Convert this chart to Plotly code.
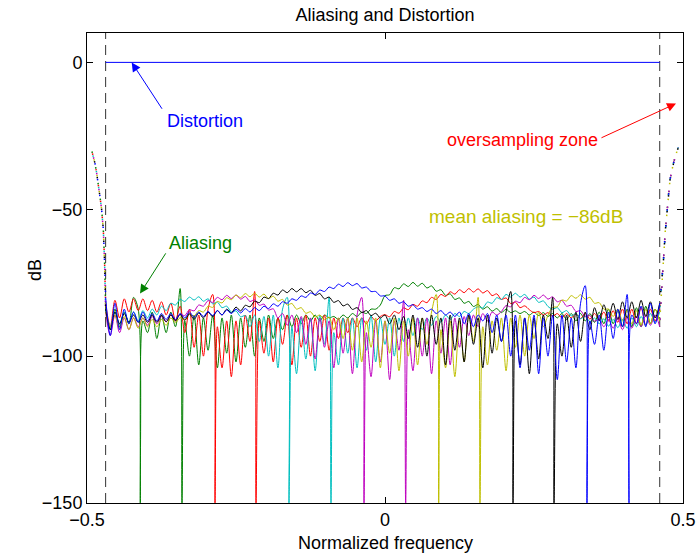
import numpy as np
import plotly.graph_objects as go

# ---------------- data ----------------
freq = (np.arange(-60, 60) / 128).tolist()          # FFT bin grid, -60/128 .. 59/128
band_edges = [-60 / 128, 59 / 128]                  # dashed lines (edge of oversampling zone)
distortion_db = [0, 0]

green_db = [-83, -91, -84, -90, -85, -89,
            -80, -84, -88,
            -92, -85, -94, -86, -92, -85, -90,
            -77, -88,
            -100, -86, -103, -87, -98, -86, -104, -87, -99, -86, -102, -87, -97, -86, -100, -87, -95, -86, -94, -87,
            -91, -86, -90, -86, -89, -86, -88, -86, -88, -86, -87,
            -86.5, -87.5, -86, -87, -85.5, -86.5, -85, -85.5, -84, -84,
            -82.6, -79.4, -79.1, -76.7, -77.1, -75.4, -76.3, -74.9, -76.2, -75.2, -76.8, -76.1, -77.9, -77.4,
            -79.3, -78.8, -80.7, -80.2, -82, -81.4, -83.1, -82.4, -84, -83.2, -84.7, -83.8, -85.2,
            -84, -85.2, -84.6, -85.5, -84.8, -86, -85, -86.2, -85.2, -86.5, -85.5, -87, -85.5, -87.5, -85.5, -88,
            -85.5, -88, -85.5, -88.5,
            -85, -89, -84, -89, -84.5, -90, -84, -90, -83.5, -90, -83, -89, -84, -88]
green_zeros = [-0.4106, -0.3406]

red_db = [-82, -90, -81, -87, -80.5, -85, -80.5, -84.5, -80.5, -84.5, -81, -85, -81.5, -86, -82,
          -88, -83, -92, -84, -97, -86, -100, -84,
          -79, -90,
          -104, -88, -107, -88, -103, -86, -95,
          -78, -88,
          -99, -87, -102, -87, -96, -86, -103, -87, -97, -86, -100, -87, -95, -86, -98, -87, -94, -87, -92,
          -87, -90, -87, -89, -86.5, -88, -86.5,
          -85.9, -86.6, -84.8, -85.4, -83.6, -84.2, -82.4, -83, -81.2, -81.8, -80, -80.7, -79, -79.7, -78.1,
          -78.9, -77.4, -78.4, -77, -78.2, -77.1, -78.5, -77.7, -79.4, -78.8, -80.7, -80.2, -82.1, -81.6,
          -83.5, -82.9,
          -84.2, -85.2, -84.8, -86, -85.2, -86.5, -85.5, -87, -85.5, -87, -85.6, -87.2, -85.5, -87.4, -85.5,
          -87.5, -85, -88, -84.5, -88.5, -84, -89, -84, -89, -83.5, -89.5, -84, -88, -84]
red_zeros = [-0.2852, -0.2164]

cyan_db = [-84, -90, -85, -89, -85, -88.5, -85, -88, -84.5, -87, -84, -86, -83, -84.5, -82,
           -82.6, -80.7, -81.4, -79.9, -80.9, -79.8, -81.3, -80.5, -82.2, -81.6, -83.5, -83, -85, -84.6,
           -86.6, -86.2,
           -90, -86, -95, -86.5, -100, -86, -104, -84,
           -80, -90,
           -106, -87, -101, -87, -105, -86, -96,
           -80, -92,
           -103, -87, -99, -87, -104, -87, -98, -86, -102, -87, -96, -87, -100, -87, -95, -87, -93,
           -87, -91, -87, -89.5, -86.5, -88.5, -86, -87.5, -85.5, -86.5, -84.8, -85.5, -84,
           -83.2, -83.6, -81.6, -82, -80.1, -80.7, -79, -79.9, -78.6, -79.9, -79, -80.6, -79.9, -81.7,
           -81.2, -83.1,
           -84, -83.5, -85.2, -84.5, -86.3, -85.5, -87.3, -86.3, -88.3, -87, -89, -87.3, -89.8, -87.5,
           -90.3, -87.5, -90.5, -87, -90, -86.5, -89.5, -85.5, -88.5, -85]
cyan_zeros = [-0.1611, -0.0906]

magenta_db = [-85, -93, -86, -92, -87, -91, -87, -90, -87, -89.5, -86.5, -89, -86.5, -88.3, -86,
              -87.6, -85.7, -86.2, -84.2, -84.6, -82.6, -83, -81.1, -81.7, -80, -80.8, -79.3, -80.4,
              -79.2, -80.6, -79.7, -81.4, -80.8, -82.7, -82.3, -84.3, -83.9,
              -87, -85.5, -89.5, -86, -92, -86.5, -96, -87, -101, -87, -97, -88, -104, -87, -99, -87,
              -106, -86,
              -80, -92,
              -107, -88, -102, -88, -108, -88, -98,
              -81, -91,
              -105, -87, -100, -87, -106, -88, -99, -87, -103, -87, -97, -86.5, -93, -86, -90, -85.5,
              -88, -85, -86,
              -84.8, -82.8, -83.2, -81.3, -81.8, -80, -80.8, -79.3, -80.4, -79.2, -80.6, -79.8, -81.5,
              -81, -83, -82.7, -84.8, -84.5, -86.6, -86.2, -88.1,
              -87.5, -90, -87.5, -90.5, -87, -91, -87, -90.5, -86.5, -90, -86, -89.5, -86, -90]
magenta_zeros = [-0.0352, 0.0347]

yellow_db = [-85, -90, -86, -90.5, -86.5, -91, -87, -90.5, -87, -90, -87.5, -90, -87.5, -89.5, -87,
             -88.6, -86.9, -87.6, -85.8, -86.4, -84.5, -85, -83, -83.4, -81.4, -81.9, -80.1, -80.8,
             -79.2, -80.1, -78.7, -79.8, -78.6, -79.9, -78.9, -80.4, -79.6, -81.3, -80.7, -82.6, -82.1,
             -84, -83.5, -85.4, -84.9, -86.7, -86, -87.6, -86.7,
             -91, -87, -94, -87, -98, -87, -102, -88, -97, -87, -104, -88, -99, -87, -105, -88, -100,
             -87, -103, -87, -96, -85,
             -79, -91,
             -104, -88, -107, -88, -102, -86, -95,
             -80, -90,
             -103, -88, -98, -87, -105, -87, -97, -86, -100, -86, -94, -85, -90,
             -86.1, -83.4, -83.2, -80.9, -81.2, -79.4, -80.3, -79.1, -80.6, -80, -82, -81.8, -84,
             -84, -86.5, -84, -88, -84.5, -89, -84.5, -89.5, -84, -89, -84, -88]
yellow_zeros = [0.0901, 0.1594]

black_db = [-84, -91, -85, -89, -85.5, -88.5, -86, -88.5, -86, -88.5, -86, -88.5, -86, -88.3, -86,
            -88, -85.8, -87.8, -85.6, -87.5, -85.3, -87, -85, -86.6, -84.5, -86, -84, -85.3, -83.3,
            -84.6, -82.7, -83.2, -81.3, -81.8, -79.9, -80.4, -78.6, -79.2, -77.5, -78.4, -77, -78.1,
            -77, -78.4, -77.6, -79.3, -78.7, -80.5, -79.9, -81.7, -81.1, -82.9, -82.3, -84.1, -83.5,
            -85.2, -84.5, -86.2, -85.4, -87,
            -86, -89, -86, -91, -86.5, -94, -86, -97, -87, -100, -86, -96, -87, -103, -86, -98, -87,
            -102, -86, -96, -87, -104, -86, -99, -87, -95, -85,
            -78, -88,
            -103, -87, -106, -87, -101, -86, -94,
            -80, -89,
            -100, -86, -97, -85, -95, -85, -91, -83.5,
            -88, -82.5, -87, -82, -87.5, -81.5, -87, -81.5, -87, -81, -86.5, -81.5, -87, -82]
black_zeros = [0.2148, 0.2836]

blue_db = [-80, -93, -82, -91, -84, -89, -85, -88.5, -85, -88, -85.5, -88, -85.5, -87.5, -85.5,
           -87.5, -85.5, -87, -85, -86.8, -85, -86.5, -84.8, -86.2, -84.5, -86, -84.3, -85.5, -84,
           -85.3, -83.8,
           -85, -83.5, -84.5, -83, -83.8, -82.2, -83, -81.5, -82, -80.5, -81, -79.5, -80, -78.5, -79,
           -77.5, -78, -76.5, -77, -75.5, -76.3, -75, -76, -75.3, -76.8, -76.5, -78, -78, -79.5,
           -79.5, -81, -80.5, -82, -81.5, -83, -82.5, -84, -83.5, -84.8, -84, -85.5, -84.5, -86, -85,
           -86.5,
           -85, -89, -85.5, -90, -86, -88, -85.5, -92, -86, -95, -86,
           -100, -86, -104, -87, -98, -86, -106, -87, -100, -86, -108, -86, -102, -87, -104, -82,
           -76, -88,
           -96, -86, -98, -85, -94, -84, -90,
           -79, -86,
           -89, -83, -90, -82, -89, -82]
blue_zeros = [0.3389, 0.4094]

# oversampling zone (outside the dashed lines), drawn dotted
left_zone_f = [-0.4921, -0.4866, -0.4837, -0.4810, -0.4782, -0.4755, -0.4726, -0.4705]
left_zone_db = [-30, -34.4, -37.8, -41, -45.8, -50, -57, -68]
right_zone_f = [0.4640, 0.4670, 0.4700, 0.4726, 0.4755, 0.4782, 0.4810, 0.4837, 0.4870, 0.4921]
right_zone_db = [-76, -68, -58, -51.5, -45, -40, -37, -34.5, -32, -29]

zero_floor_db = -150

x_ticks = [-0.5, 0, 0.5]
x_ticktext = ["\u22120.5", "0", "0.5"]
y_ticks = [0, -50, -100, -150]
y_ticktext = ["0", "\u221250", "\u2212100", "\u2212150"]

series = [
    ("#008000", green_db, green_zeros),
    ("#ff0000", red_db, red_zeros),
    ("#00bfbf", cyan_db, cyan_zeros),
    ("#bf00bf", magenta_db, magenta_zeros),
    ("#bfbf00", yellow_db, yellow_zeros),
    ("#000000", black_db, black_zeros),
    ("#0000ff", blue_db, blue_zeros),
]

FONT = "Liberation Sans, Arial, Helvetica, sans-serif"

fig = go.Figure()

# dashed band edges
for xe in band_edges:
    fig.add_trace(go.Scatter(x=[xe, xe], y=[-150, 10], mode="lines",
                             line=dict(color="#333333", width=1, dash="10px,6px"),
                             hoverinfo="skip", showlegend=False))

# distortion
fig.add_trace(go.Scatter(x=band_edges, y=distortion_db, mode="lines",
                         line=dict(color="#0000ff", width=1), showlegend=False))

n = len(series)
for k, (color, db, zeros) in enumerate(series):
    pts = sorted(list(zip(freq, db)) + [(z, zero_floor_db) for z in zeros])
    fig.add_trace(go.Scatter(x=[p[0] for p in pts], y=[p[1] for p in pts], mode="lines",
                             line=dict(color=color, width=1, shape="spline", smoothing=0.9),
                             showlegend=False))
    # interleaved dots so every colour shows in the oversampling zone
    dot = f"0px,{2 * k + 1}px,1.5px,{2 * (n - k) - 0.5}px"
    fig.add_trace(go.Scatter(x=left_zone_f + [freq[0]], y=left_zone_db + [db[0]], mode="lines",
                             line=dict(color=color, width=1.5, dash=dot), showlegend=False))
    fig.add_trace(go.Scatter(x=[freq[-1]] + right_zone_f, y=[db[-1]] + right_zone_db, mode="lines",
                             line=dict(color=color, width=1.5, dash=dot), showlegend=False))

annotations = [
    # arrows
    dict(x=-0.425, y=0, ax=-0.3725, ay=-16.3, axref="x", ayref="y", xref="x", yref="y",
         text="", showarrow=True, arrowhead=2, arrowsize=1.8, arrowwidth=1, arrowcolor="#0000ff",
         standoff=0, startstandoff=0),
    dict(x=0.4883, y=-14.0, ax=0.3607, ay=-25.9, axref="x", ayref="y", xref="x", yref="y",
         text="", showarrow=True, arrowhead=2, arrowsize=1.8, arrowwidth=1, arrowcolor="#ff0000",
         standoff=0, startstandoff=0),
    dict(x=-0.411, y=-78.7, ax=-0.3663, ay=-64.5, axref="x", ayref="y", xref="x", yref="y",
         text="", showarrow=True, arrowhead=2, arrowsize=1.8, arrowwidth=1, arrowcolor="#008000",
         standoff=0, startstandoff=0),
    # texts
    dict(x=-0.369, y=-20.1, xref="x", yref="y", text="Distortion", showarrow=False,
         xanchor="left", yanchor="middle", font=dict(color="#0000ff", size=18, family=FONT)),
    dict(x=0.3607, y=-26.5, xref="x", yref="y", text="oversampling zone", showarrow=False,
         xanchor="right", yanchor="middle", font=dict(color="#ff0000", size=18, family=FONT)),
    dict(x=0.2374, y=-52.4, xref="x", yref="y", text="mean aliasing = \u221286dB", showarrow=False,
         xanchor="center", yanchor="middle", font=dict(color="#bfbf00", size=19, family=FONT)),
    dict(x=-0.3658, y=-61.6, xref="x", yref="y", text="Aliasing", showarrow=False,
         xanchor="left", yanchor="middle", font=dict(color="#008000", size=18, family=FONT)),
    # axis titles
    dict(x=-0.0872, y=0.4957, xref="paper", yref="paper", text="dB", textangle=-90,
         showarrow=False, xanchor="center", yanchor="middle",
         font=dict(color="black", size=18, family=FONT)),
    dict(x=0.5, y=-0.0851, xref="paper", yref="paper", text="Normalized frequency",
         showarrow=False, xanchor="center", yanchor="middle",
         font=dict(color="black", size=18, family=FONT)),
]

fig.update_layout(
    width=700, height=556,
    margin=dict(l=87, r=17, t=33, b=53, autoexpand=False),
    paper_bgcolor="white", plot_bgcolor="white",
    font=dict(family=FONT, size=18, color="black"),
    title=dict(text="Aliasing and Distortion", x=0.5, xref="paper", y=1 - 15 / 556,
               yref="container", xanchor="center", yanchor="middle",
               font=dict(size=18, family=FONT, color="black")),
    annotations=annotations,
    showlegend=False,
)
fig.update_xaxes(range=[-0.5, 0.5], tickvals=x_ticks, ticktext=x_ticktext, automargin=False,
                 ticks="inside", ticklen=6, tickcolor="black", showline=True, linecolor="black",
                 linewidth=1, mirror="ticks", showgrid=False, zeroline=False,
                 tickfont=dict(size=18))
fig.update_yaxes(range=[-150, 10], tickvals=y_ticks, ticktext=y_ticktext, automargin=False,
                 ticks="inside", ticklen=6, tickcolor="black", showline=True, linecolor="black",
                 linewidth=1, mirror="ticks", showgrid=False, zeroline=False,
                 tickfont=dict(size=18))

# remove the browser's default 8px body margin so the 700x556 figure fills the window
fig.write_html("out.html", config={"displayModeBar": False},
               post_script="document.body.style.margin='0';document.body.style.overflow='hidden';")
